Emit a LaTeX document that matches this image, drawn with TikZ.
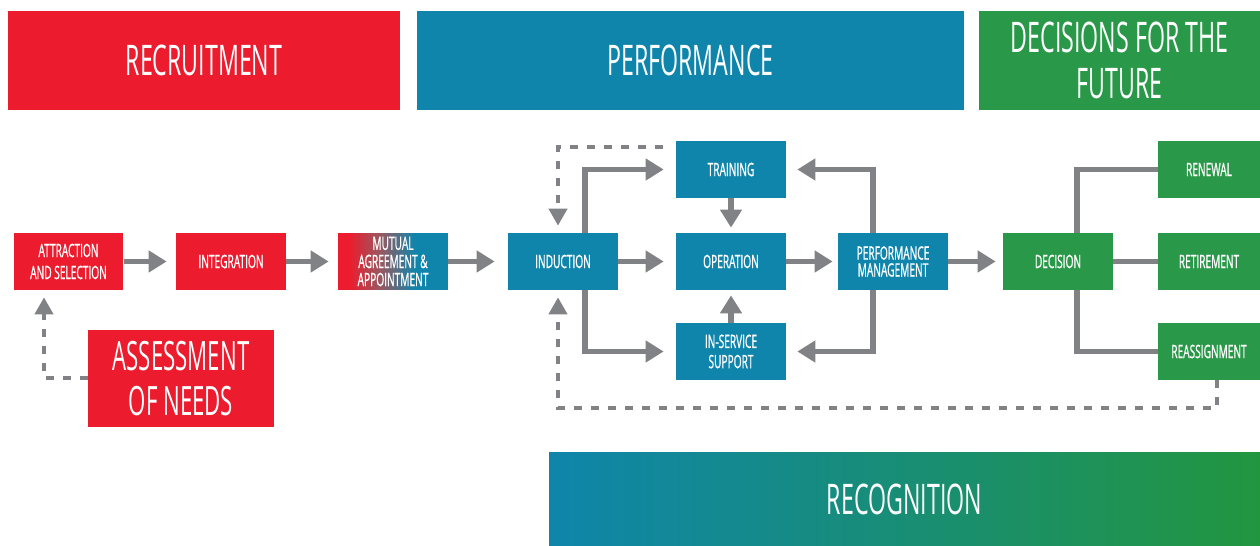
\documentclass[tikz,border=0pt]{standalone}
\usepackage{fontspec}
\newfontfamily\condfont[FakeStretch=0.55]{Open Sans}
\newfontfamily\condsemi[FakeStretch=0.55,FakeBold=0.8]{Open Sans}
\usetikzlibrary{arrows.meta,positioning}
\definecolor{recred}{HTML}{EC1C2E}
\definecolor{perfblue}{HTML}{0F85AB}
\definecolor{mutualmid}{HTML}{995860}
\definecolor{decgreen}{HTML}{2A9849}
\definecolor{recogmid}{HTML}{128D88}
\definecolor{recoggreen}{HTML}{22963F}
\definecolor{arrgray}{HTML}{818285}
\pgfdeclarehorizontalshading{mutualshade}{100bp}{color(0bp)=(recred); color(30bp)=(recred); color(44bp)=(mutualmid); color(60bp)=(perfblue); color(100bp)=(perfblue)}
\tikzset{
  box/.style={rectangle,minimum width=2.2cm,minimum height=1.14cm,inner sep=0pt,text=white,align=center,font=\condsemi\fontsize{10.5}{12}\selectfont},
  redbox/.style={box,fill=recred},
  bluebox/.style={box,fill=perfblue},
  greenbox/.style={box,fill=decgreen},
  headbox/.style={rectangle,minimum height=1.98cm,inner sep=0pt,text=white,align=center,font=\condfont\fontsize{24}{26}\selectfont},
  flow/.style={draw=arrgray,line width=0.11cm,shorten >=0.18cm,-{Triangle[length=0.36cm,width=0.42cm]}},
  link/.style={draw=arrgray,line width=0.11cm},
  back/.style={draw=arrgray,line width=0.08cm,dash pattern=on 0.16cm off 0.18cm,shorten >=0.14cm,-{Triangle[length=0.34cm,width=0.36cm]}}
}
\begin{document}
\begin{tikzpicture}[x=0.02cm,y=-0.02cm]
\useasboundingbox (0,0) rectangle (1260,546);
\draw (204,60.5) node[headbox,fill=recred,minimum width=7.84cm] (rec) {RECRUITMENT};
\draw (690.5,60.5) node[headbox,fill=perfblue,minimum width=10.94cm] (perf) {PERFORMANCE};
\draw (1119.5,60.5) node[headbox,fill=decgreen,minimum width=5.62cm] (fut) {DECISIONS FOR THE\\FUTURE};
\draw (68.5,261.5) node[redbox,font=\condsemi\fontsize{10.5}{12.5}\selectfont] (attr) {ATTRACTION\\AND SELECTION};
\draw (231,261.5) node[redbox] (integ) {INTEGRATION};
\draw (393,261.5) node[box,shading=mutualshade,font=\condsemi\fontsize{10.5}{10.3}\selectfont] (mutual) {MUTUAL\\AGREEMENT \&\\APPOINTMENT};
\draw (181,378.5) node[redbox,minimum width=3.72cm,minimum height=1.94cm,font=\condfont\fontsize{23}{26}\selectfont] (assess) {ASSESSMENT\\OF NEEDS};
\draw (563,261.5) node[bluebox] (induct) {INDUCTION};
\draw (731,169.5) node[bluebox] (train) {TRAINING};
\draw (731,261.5) node[bluebox] (oper) {OPERATION};
\draw (731,351.5) node[bluebox,font=\condsemi\fontsize{10.5}{11.5}\selectfont] (inserv) {IN-SERVICE\\SUPPORT};
\draw (893,261.5) node[bluebox,font=\condsemi\fontsize{10.5}{9.6}\selectfont] (perfm) {PERFORMANCE\\MANAGEMENT};
\draw (1058,261.5) node[greenbox] (decis) {DECISION};
\draw (1209,169.5) node[greenbox,minimum width=2.04cm] (renew) {RENEWAL};
\draw (1209,261.5) node[greenbox,minimum width=2.04cm] (retire) {RETIREMENT};
\draw (1209,351.5) node[greenbox,minimum width=2.04cm] (reassign) {REASSIGNMENT};
\draw (904.5,499) node[headbox,left color=perfblue,middle color=recogmid,right color=recoggreen,minimum width=14.22cm,minimum height=1.88cm,font=\condfont\fontsize{24}{26}\selectfont] (recog) {RECOGNITION};
\draw[flow] (attr) -- (integ);
\draw[flow] (integ) -- (mutual);
\draw[flow,shorten >=0.26cm] (mutual) -- (induct);
\draw[flow,shorten >=0.24cm] (induct) -- (oper);
\draw[flow,shorten >=0.24cm] ([xshift=0.44cm]induct.north) |- (train.west);
\draw[flow,shorten >=0.24cm] ([xshift=0.44cm]induct.south) |- (inserv.west);
\draw[flow,shorten >=0.1cm] (train) -- (oper);
\draw[flow,shorten >=0.1cm] (inserv) -- (oper);
\draw[flow,shorten >=0.1cm] (oper) -- (perfm);
\draw[flow,shorten >=0.22cm] ([xshift=-0.4cm]perfm.north) |- (train.east);
\draw[flow,shorten >=0.22cm] ([xshift=-0.4cm]perfm.south) |- (inserv.east);
\draw[flow,shorten >=0.14cm] (perfm) -- (decis);
\draw[link] ([xshift=0.38cm]decis.north) |- (renew.west);
\draw[link] (decis) -- (retire);
\draw[link] ([xshift=0.38cm]decis.south) |- (reassign.west);
\draw[back] (assess.west) -| ([xshift=-0.49cm]attr.south);
\draw[back] ([xshift=0.16cm]reassign.south) -- ++(0,-0.56cm) -| ([xshift=-0.1cm]induct.south);
\draw[back] ([xshift=-0.26cm,yshift=0.45cm]train.west) -| ([xshift=-0.1cm]induct.north);
\end{tikzpicture}
\end{document}
